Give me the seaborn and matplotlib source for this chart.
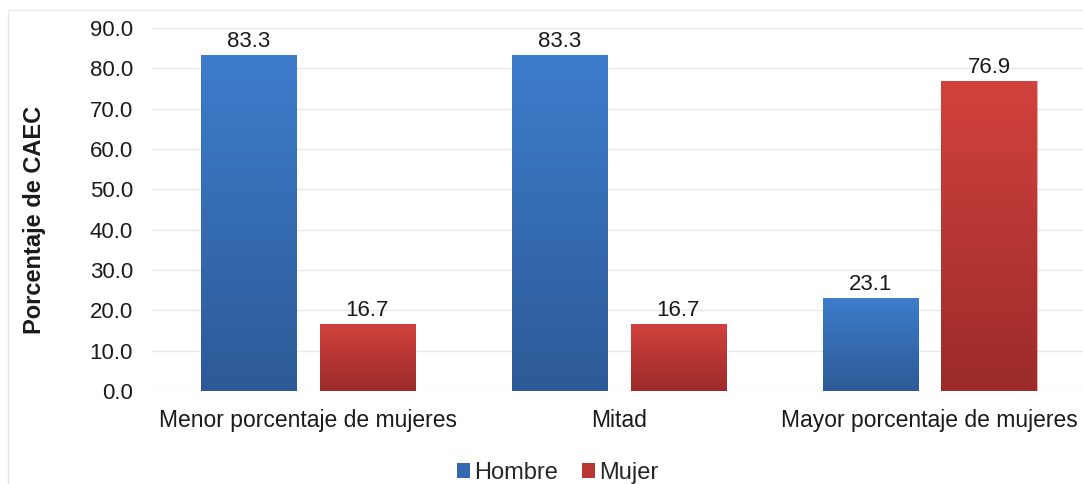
import numpy as np
import pandas as pd
import matplotlib
matplotlib.use('Agg')
import matplotlib.pyplot as plt
from matplotlib.colors import LinearSegmentedColormap
from matplotlib.patches import Rectangle, Patch
import seaborn as sns

# Data
categories = ['Menor porcentaje de mujeres', 'Mitad', 'Mayor porcentaje de mujeres']
hombre = [83.3, 83.3, 23.1]
mujer = [16.7, 16.7, 76.9]
series = ['Hombre', 'Mujer']

df = pd.DataFrame({
    'grupo': categories * 2,
    'sexo': ['Hombre'] * 3 + ['Mujer'] * 3,
    'valor': hombre + mujer,
})

sns.set_theme(style='white')
plt.rcParams['font.family'] = ['Liberation Sans', 'DejaVu Sans']

fig = plt.figure(figsize=(10.83, 4.84), dpi=100)
ax = fig.add_axes([0.1408, 0.192, 0.861, 0.750])

# thin frame around the chart area, cut by the image edge on right/bottom
fig.patches.append(Rectangle((8 / 1083, -0.05), 1.1, 1 - 10 / 484 + 0.05,
                             transform=fig.transFigure, fill=False,
                             edgecolor='#E3E6EC', linewidth=1.0, zorder=0))

palette = {'Hombre': '#3468B0', 'Mujer': '#B93632'}
sns.barplot(data=df, x='grupo', y='valor', hue='sexo', order=categories,
            hue_order=series, palette=palette, width=0.765, gap=0.2,
            ax=ax, legend=False, zorder=3)

# vertical gradient fill for each bar
grad = {
    'Hombre': LinearSegmentedColormap.from_list('h', ['#2D5A97', '#3D7DCC']),
    'Mujer': LinearSegmentedColormap.from_list('m', ['#9B2B29', '#D2423E']),
}
ramp = np.linspace(0, 1, 256).reshape(-1, 1)
for cont, name in zip(ax.containers, series):
    for bar in cont:
        x0, w, h = bar.get_x(), bar.get_width(), bar.get_height()
        im = ax.imshow(ramp, cmap=grad[name], origin='lower', aspect='auto',
                       extent=[x0, x0 + w, 0, h], zorder=3)
        im.set_clip_path(bar)
        bar.set_facecolor('none')
        bar.set_edgecolor('#A9C4E8' if name == 'Hombre' else '#E6A09E')
        bar.set_linewidth(0.6)
    ax.bar_label(cont, fmt='%.1f', padding=2, fontsize=16, color='#1A1A1A')

ax.set_xlim(-0.5, 2.5)
ax.set_ylim(0, 90)
ax.set_yticks(np.arange(0, 91, 10))
ax.set_yticklabels([f'{v:.1f}' for v in np.arange(0, 91, 10)])
ax.yaxis.grid(True, color='#E6E8EE', linewidth=1.0, zorder=0)
ax.set_axisbelow(True)
for s in ax.spines.values():
    s.set_visible(False)
ax.tick_params(axis='both', length=0, colors='#1A1A1A')
ax.tick_params(axis='y', pad=14, labelsize=16)
ax.tick_params(axis='x', pad=13, labelsize=16.5)
ax.set_xlabel('')
ax.set_ylabel('Porcentaje de CAEC', fontsize=17, fontweight='bold',
              color='#1A1A1A')
ax.yaxis.set_label_coords(-0.114, 0.471)

handles = [Patch(facecolor=palette[s], edgecolor='none') for s in series]
fig.legend(handles, series, loc='center', bbox_to_anchor=(0.515, 0.023),
           ncol=2, frameon=False, fontsize=17, handlelength=0.55,
           handleheight=0.55, handletextpad=0.2, columnspacing=1.0,
           borderpad=0.1)

fig.savefig('out.png', dpi=100, facecolor='white')
